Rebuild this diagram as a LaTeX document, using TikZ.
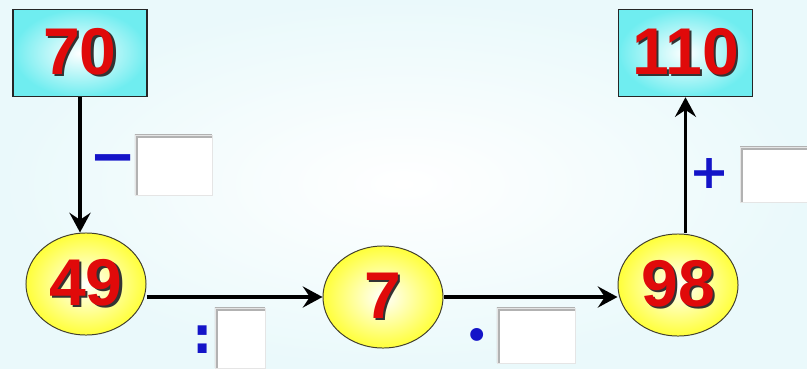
\documentclass[tikz,border=0pt]{standalone}
\usepackage{fontspec}
\setmainfont{Liberation Sans}
\newfontfamily\signfont{DejaVu Sans}
\usepackage{xcolor}
\definecolor{boxCyan}  {HTML}{6FEDF0}
\definecolor{eggYellow}{HTML}{FFFF3A}
\definecolor{numRed}   {HTML}{E00A0A}
\definecolor{signBlue} {HTML}{1414C8}
\definecolor{backTint} {HTML}{EAF9FB}
\usetikzlibrary{arrows.meta, positioning, calc, shapes.geometric}
\newcommand\bignum[1]{\fontsize{47}{47}\selectfont\bfseries
    \makebox[0pt][l]{\hspace{1.5pt}\raisebox{-1.5pt}{\color{black!80}#1}}{\color{numRed}#1}}
\tikzset{
    numbox/.style={rectangle, draw=black!85, line width=0.9pt,
                   minimum width=3.35cm, minimum height=2.18cm, inner sep=0pt,
                   inner color=white, outer color=boxCyan},
    numegg/.style={ellipse, draw=black!70!olive, line width=0.7pt,
                   minimum width=3cm, minimum height=2.55cm, inner sep=0pt,
                   inner color=white, outer color=eggYellow},
    blank/.style={rectangle, fill=white, draw=gray!20, line width=0.5pt, inner sep=0pt,
                  path picture={\draw[gray!60, line width=4pt]
                      (path picture bounding box.south west)
                   -- (path picture bounding box.north west)
                   -- (path picture bounding box.north east);}},
    sign/.style={text=signBlue, font=\signfont\bfseries\fontsize{#1}{#1}\selectfont, inner sep=0pt},
    arr/.style={-{Stealth[length=14pt, width=15pt, inset=5pt]}, line width=2.8pt},
}

\begin{document}
\begin{tikzpicture}[x=0.025cm, y=-0.025cm]
    \useasboundingbox (0,0) rectangle (807,368);
    \shade[inner color=white, outer color=backTint] (0,0) rectangle (807,368);

    \node[numbox] (n70)  at (80,53)    {\bignum{70}};
    \node[numbox] (n110) at (685.5,53) {\bignum{110}};
    \node[numegg] (n49)  at (86,284)   {\bignum{49}};
    \node[numegg] (n7)   at (383,297)  {\bignum{7}};
    \node[numegg] (n98)  at (678,285)  {\bignum{98}};

    \draw[arr] (n70.south) -- (n70.south |- n49.north);
    \draw[arr] (n7.west -| n49.east) -- (n7.west);
    \draw[arr] (n7.east) -- (n7.east -| n98.west);
    \draw[arr] (n110.south |- n98.north) -- (n110.south);

    \node[blank, minimum width=1.93cm, minimum height=1.5cm]  (b70)  at (173.5,165) {};
    \node[blank, minimum width=1.25cm, minimum height=1.5cm]  (b49)  at (240,338)   {};
    \node[blank, minimum width=1.95cm, minimum height=1.38cm] (b7)   at (536,335.5) {};
    \node[blank, minimum width=2cm,    minimum height=1.38cm] (b98)  at (780,174.5) {};

    \node[sign=40] (minus) at (113,165) {−};
    \node[sign=36] (colon) at (203,340) {:};
    \node[sign=26] (dot)   at (477,338) {•};
    \node[sign=34] (plus)  at (710,174) {+};
\end{tikzpicture}
\end{document}
